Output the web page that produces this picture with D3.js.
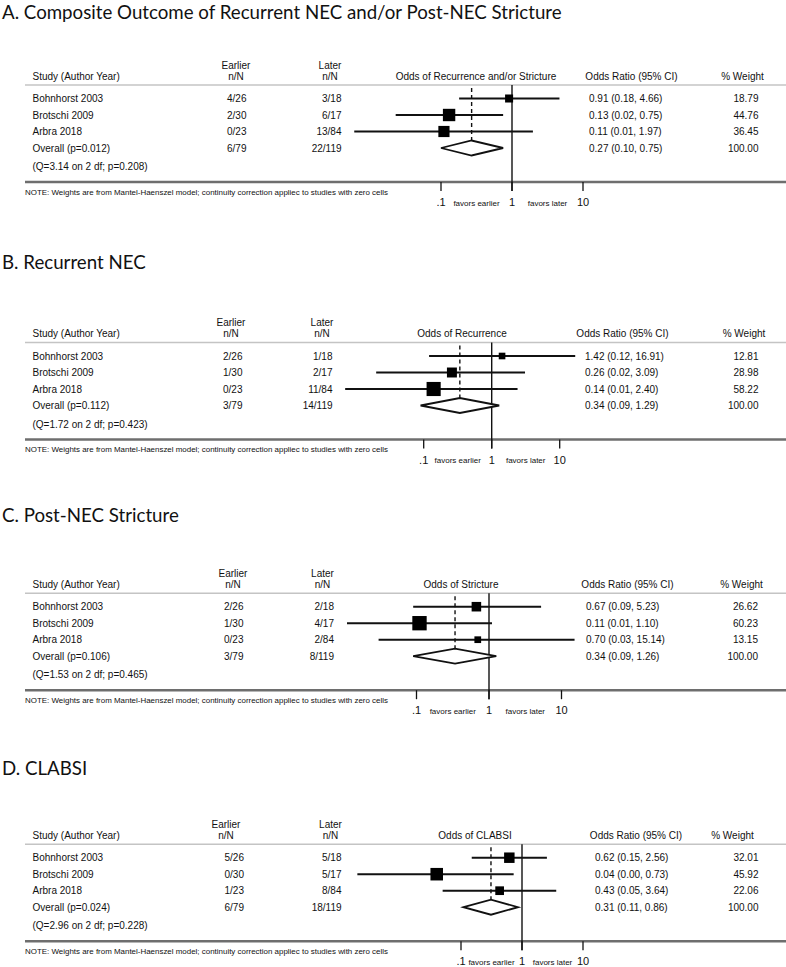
<!DOCTYPE html>
<html><head><meta charset="utf-8">
<script src="https://cdn.jsdelivr.net/npm/d3@7/dist/d3.min.js"></script>
<style>body{margin:0;background:#fff}svg{display:block}</style>
</head><body><div id="chart"></div>
<script>
// ---------------- DATA ----------------
const panelTitles = [
  "A. Composite Outcome of Recurrent NEC and/or Post-NEC Stricture",
  "B. Recurrent NEC",
  "C. Post-NEC Stricture",
  "D. CLABSI"
];
const plotTitles = ["Odds of Recurrence and/or Stricture","Odds of Recurrence","Odds of Stricture","Odds of CLABSI"];
const studies = ["Bohnhorst 2003","Brotschi 2009","Arbra 2018"];
const overallP = ["0.012","0.112","0.106","0.024"];
const heterogeneity = ["(Q=3.14 on 2 df; p=0.208)","(Q=1.72 on 2 df; p=0.423)","(Q=1.53 on 2 df; p=0.465)","(Q=2.96 on 2 df; p=0.228)"];
const earlierNN = [["4/26","2/30","0/23","6/79"],["2/26","1/30","0/23","3/79"],["2/26","1/30","0/23","3/79"],["5/26","0/30","1/23","6/79"]];
const laterNN = [["3/18","6/17","13/84","22/119"],["1/18","2/17","11/84","14/119"],["2/18","4/17","2/84","8/119"],["5/18","5/17","8/84","18/119"]];
// odds ratios (last = overall)
const oddsRatio = [[0.91,0.13,0.11,0.27],[1.42,0.26,0.14,0.34],[0.67,0.11,0.70,0.34],[0.62,0.04,0.43,0.31]];
// CI bounds as drawn (rounded zeros)
const ciLow = [[0.18,0.023,0.006,0.10],[0.12,0.02,0.007,0.09],[0.09,0.011,0.03,0.09],[0.15,0.002,0.05,0.11]];
const ciHigh = [[4.66,0.75,1.97,0.75],[16.91,3.09,2.40,1.29],[5.23,1.10,15.14,1.26],[2.56,0.73,3.64,0.86]];
const ciText = [
  ["0.91 (0.18, 4.66)","0.13 (0.02, 0.75)","0.11 (0.01, 1.97)","0.27 (0.10, 0.75)"],
  ["1.42 (0.12, 16.91)","0.26 (0.02, 3.09)","0.14 (0.01, 2.40)","0.34 (0.09, 1.29)"],
  ["0.67 (0.09, 5.23)","0.11 (0.01, 1.10)","0.70 (0.03, 15.14)","0.34 (0.09, 1.26)"],
  ["0.62 (0.15, 2.56)","0.04 (0.00, 0.73)","0.43 (0.05, 3.64)","0.31 (0.11, 0.86)"]
];
const weights = [[18.79,44.76,36.45,100],[12.81,28.98,58.22,100],[26.62,60.23,13.15,100],[32.01,45.92,22.06,100]];
const axisTicks = [0.1, 1, 10];
const axisTickLabels = [".1","1","10"];
const favorLabels = ["favors earlier","favors later"];
const noteText = "NOTE: Weights are from Mantel-Haenszel model; continuity correction appliec to studies with zero cells";

// ---------------- LAYOUT ----------------
const layout = [
  {titleY:19, row0:98.5, x1:512, dec:71, eH:236, eV:246.5, lH:330, lV:341.5, pH:476, oH:631.5, oV:589, wH:742.5, wV:758.5},
  {titleY:269, row0:356, x1:491.7, dec:68, eH:231, eV:242.5, lH:322, lV:332.5, pH:462, oH:622.5, oV:585, wH:744, wV:758.5},
  {titleY:522, row0:606.7, x1:489, dec:72.5, eH:233, eV:243.5, lH:322.5, lV:334, pH:461, oH:627.5, oV:586, wH:741.5, wV:758},
  {titleY:775, row0:857.7, x1:522, dec:61, eH:226, eV:244, lH:330.5, lV:341.5, pH:475, oH:636, oV:595, wH:732.5, wV:758.5}
];
const W = 786, H = 967, ROW = 16.5;
const FONT = "'Liberation Sans', Arial, sans-serif";
const TFONT = "Lato, 'Open Sans', sans-serif";
const ink = "#111";

const svg = d3.select("#chart").append("svg").attr("width", W).attr("height", H);
svg.append("rect").attr("width", W).attr("height", H).attr("fill", "#fff");

const boxSize = d3.scaleSqrt().domain([0, 100]).range([0, 18.5]);

// title font size fitted on panel A
let titleFs = 17;
{
  const t = svg.append("text").attr("font-family", TFONT).attr("font-size", 20).text(panelTitles[0]);
  const w = t.node().getComputedTextLength();
  titleFs = 20 * 560 / w;
  t.remove();
}

layout.forEach((L, i) => {
  const g = svg.append("g");
  const x = d3.scaleLog().domain([0.1, 10]).range([L.x1 - L.dec, L.x1 + L.dec]);
  const hl = L.row0 - 13.5;
  const rowY = j => L.row0 + j * ROW;
  const axisY = L.row0 + 83.5;

  g.append("text").attr("x", 2).attr("y", L.titleY).attr("font-family", TFONT)
    .attr("font-size", titleFs).attr("fill", ink).text(panelTitles[i]);

  const txt = (xx, yy, s, anchor, size) => g.append("text").attr("x", xx).attr("y", yy)
    .attr("font-family", FONT).attr("font-size", size || 10).attr("fill", ink)
    .attr("text-anchor", anchor || "start").text(s);

  // header
  const h2 = hl - 5.5, h1 = hl - 16.5;
  txt(32.5, h2, "Study (Author Year)");
  txt(L.eH, h1, "Earlier", "middle"); txt(L.eH, h2, "n/N", "middle");
  txt(L.lH, h1, "Later", "middle"); txt(L.lH, h2, "n/N", "middle");
  txt(L.pH, h2, plotTitles[i], "middle");
  txt(L.oH, h2, "Odds Ratio (95% CI)", "middle");
  txt(L.wH, h2, "% Weight", "middle");
  g.append("line").attr("x1", 25).attr("x2", W).attr("y1", hl).attr("y2", hl)
    .attr("stroke", "#c4c4c4").attr("stroke-width", 1.5);

  // rows text
  const rowLabels = studies.concat(["Overall (p=" + overallP[i] + ")"]);
  rowLabels.forEach((s, j) => {
    const yy = rowY(j) + 3.6;
    txt(32.5, yy, s);
    txt(L.eV, yy, earlierNN[i][j], "end");
    txt(L.lV, yy, laterNN[i][j], "end");
    txt(L.oV, yy, ciText[i][j]);
    txt(L.wV, yy, weights[i][j].toFixed(2), "end");
  });
  txt(32.5, L.row0 + 68 + 3.6, heterogeneity[i]);

  // axis
  g.append("line").attr("x1", 25).attr("x2", W).attr("y1", axisY).attr("y2", axisY)
    .attr("stroke", "#6e6e6e").attr("stroke-width", 2.5);
  const note = txt(25, axisY + 12.5, noteText, "start", 7);
  note.attr("textLength", 363).attr("lengthAdjust", "spacingAndGlyphs");
  axisTicks.forEach((v, k) => {
    g.append("line").attr("x1", x(v)).attr("x2", x(v)).attr("y1", axisY).attr("y2", axisY + 9)
      .attr("stroke", ink).attr("stroke-width", 1.3);
    txt(x(v), axisY + 24, axisTickLabels[k], "middle", 11);
  });
  txt(x(Math.sqrt(0.1)), axisY + 23.5, favorLabels[0], "middle", 8);
  txt(x(Math.sqrt(10)), axisY + 23.5, favorLabels[1], "middle", 8);

  // null line
  g.append("line").attr("x1", x(1)).attr("x2", x(1)).attr("y1", hl).attr("y2", axisY + 9)
    .attr("stroke", ink).attr("stroke-width", 1.4);
  // pooled dashed line
  const ov = oddsRatio[i][3];
  g.append("line").attr("x1", x(ov)).attr("x2", x(ov)).attr("y1", hl + 3).attr("y2", rowY(3) + 7.5)
    .attr("stroke", ink).attr("stroke-width", 1.4).attr("stroke-dasharray", "4,3");

  // study CIs and boxes
  for (let j = 0; j < 3; j++) {
    const yy = rowY(j);
    g.append("line").attr("x1", x(ciLow[i][j])).attr("x2", x(ciHigh[i][j])).attr("y1", yy).attr("y2", yy)
      .attr("stroke", ink).attr("stroke-width", 2);
    const s = boxSize(weights[i][j]);
    g.append("rect").attr("x", x(oddsRatio[i][j]) - s / 2).attr("y", yy - s / 2)
      .attr("width", s).attr("height", s).attr("fill", "#000");
  }
  // diamond
  const yd = rowY(3);
  g.append("path")
    .attr("d", `M${x(ciLow[i][3])},${yd}L${x(ov)},${yd - 7.5}L${x(ciHigh[i][3])},${yd}L${x(ov)},${yd + 7.5}Z`)
    .attr("fill", "#fff").attr("stroke", ink).attr("stroke-width", 1.8);
});
</script></body></html>
